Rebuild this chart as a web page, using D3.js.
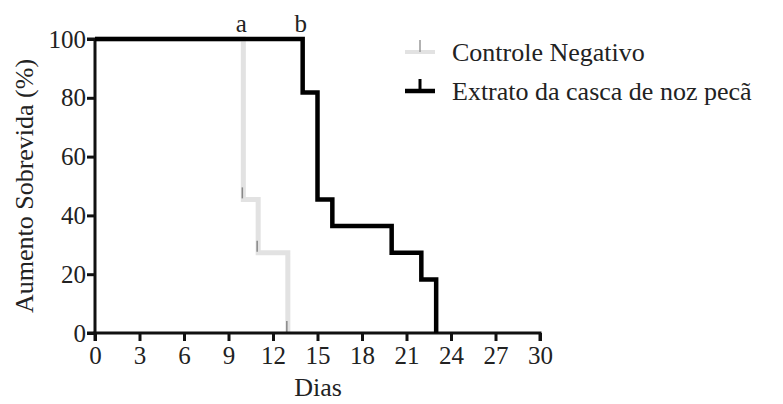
<!DOCTYPE html>
<html>
<head>
<meta charset="utf-8">
<script src="https://cdn.jsdelivr.net/npm/d3@7"></script>
</head>
<body style="margin:0;background:#fff">
<script>
// survival steps (day, %)
const controlDays = [0, 10, 11, 13];
const controlVals = [100, 45.45, 27.27, 0];
const extratoDays = [0, 14, 15, 16, 20, 22, 23];
const extratoVals = [100, 81.82, 45.45, 36.36, 27.27, 18.18, 0];
const xTicks = [0, 3, 6, 9, 12, 15, 18, 21, 24, 27, 30];
const yTicks = [0, 20, 40, 60, 80, 100];
const seriesNames = ["Controle Negativo", "Extrato da casca de noz pecã"];
const letters = [{ day: 10, label: "a" }, { day: 14, label: "b" }];

const width = 783, height = 404;
const margin = { left: 95, right: 243, top: 39, bottom: 71 };

const svg = d3.select("body").append("svg")
    .attr("width", width)
    .attr("height", height)
    .attr("font-family", "Liberation Serif");

const x = d3.scaleLinear().domain([0, 30]).range([margin.left, width - margin.right]);
const y = d3.scaleLinear().domain([0, 100]).range([height - margin.bottom, margin.top]);

function toSteps(days, vals) {
    const pts = [];
    for (let i = 0; i < days.length; i++) {
        pts.push({ d: days[i], v: vals[i] });
    }
    return pts;
}

function serifText(sel, size) {
    sel.attr("font-family", "Liberation Serif")
        .attr("font-size", size)
        .attr("fill", "#222");
}

const line = d3.line()
    .x(p => x(p.d))
    .y(p => y(p.v))
    .curve(d3.curveStepAfter);

const control = toSteps(controlDays, controlVals);
const extrato = toSteps(extratoDays, extratoVals);

// control series (light grey), mostly hidden under black at 100
svg.append("path")
    .attr("d", line(control))
    .attr("fill", "none")
    .attr("stroke", "#e2e2e2")
    .attr("stroke-width", 5);

// censor marks on the control drops
svg.selectAll("line.cens")
    .data(control.slice(1))
    .enter().append("line")
    .attr("class", "cens")
    .attr("x1", p => x(p.d) - 1)
    .attr("x2", p => x(p.d) - 1)
    .attr("y1", p => y(p.v) - 12)
    .attr("y2", p => y(p.v) - 1)
    .attr("stroke", "#888")
    .attr("stroke-width", 1.5);

// axes
const xAxis = d3.axisBottom(x).tickValues(xTicks).tickSize(8).tickPadding(5);
const yAxis = d3.axisLeft(y).tickValues(yTicks).tickSize(8).tickPadding(1);

const gx = svg.append("g")
    .attr("transform", `translate(0,${y(0)})`)
    .call(xAxis);
const gy = svg.append("g")
    .attr("transform", `translate(${x(0)},0)`)
    .call(yAxis);

[gx, gy].forEach(g => {
    g.attr("font-family", "Liberation Serif").attr("font-size", 25);
    g.select(".domain").attr("stroke", "#111").attr("stroke-width", 3);
    g.selectAll(".tick line").attr("stroke", "#111").attr("stroke-width", 3);
    g.selectAll(".tick text").call(serifText, 25);
});
gx.select(".domain").attr("d", `M${x(0)},8V0H${x(30)}V8`);
gy.select(".domain").attr("d", `M-8,${y(0)}H0V${y(100)}H-8`);

// extrato series (black) on top
svg.append("path")
    .attr("d", line(extrato))
    .attr("fill", "none")
    .attr("stroke", "#000")
    .attr("stroke-width", 4.5);

// significance letters
svg.selectAll("text.letter")
    .data(letters)
    .enter().append("text")
    .attr("class", "letter")
    .attr("x", d => x(d.day) - 2)
    .attr("y", y(100) - 7)
    .attr("text-anchor", "middle")
    .call(serifText, 25)
    .text(d => d.label);

// axis titles
svg.append("text")
    .attr("x", 318)
    .attr("y", 396)
    .attr("text-anchor", "middle")
    .call(serifText, 26)
    .text("Dias");

svg.append("text")
    .attr("transform", `translate(33,${(y(0) + y(100)) / 2}) rotate(-90)`)
    .attr("text-anchor", "middle")
    .call(serifText, 26)
    .text("Aumento Sobrevida (%)");

// legend
const legendY = [52, 91];
const legendColors = ["#e2e2e2", "#000"];
const legendW = [4, 4.5];
seriesNames.forEach((name, i) => {
    const g = svg.append("g").attr("transform", `translate(405,${legendY[i]})`);
    g.append("line")
        .attr("x1", 0).attr("x2", 30)
        .attr("y1", 0).attr("y2", 0)
        .attr("stroke", legendColors[i])
        .attr("stroke-width", legendW[i]);
    g.append("line")
        .attr("x1", 15).attr("x2", 15)
        .attr("y1", -12).attr("y2", 0)
        .attr("stroke", i === 0 ? "#999" : "#000")
        .attr("stroke-width", i === 0 ? 1.5 : 3);
    g.append("text")
        .attr("x", 47)
        .attr("y", 9)
        .call(serifText, 26)
        .text(name);
});
</script>
</body>
</html>
